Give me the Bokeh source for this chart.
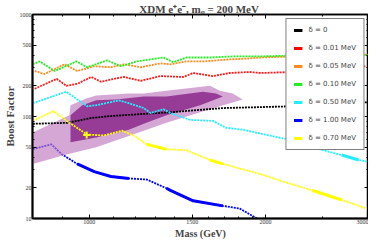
import numpy as np
from bokeh.plotting import figure
from bokeh.models import (LogAxis, FixedTicker, Legend, LegendItem, Range1d,
                          CustomJSTickFormatter)
from bokeh.embed import file_html
from bokeh.resources import INLINE

# ---------------- data (mass in GeV, boost factor) ----------------
black_mass = [801, 918, 1008, 1089, 1239, 1376, 1692, 2240, 3000]
black_boost = [84.8, 86.7, 96.7, 101, 106, 110, 121, 126, 138]

red_mass = [807, 880, 914, 954, 1008, 1048, 1102, 1146, 1225, 1324, 1448, 1505, 1627, 1739, 1879, 1963, 2223, 2970]
red_boost = [187, 234, 200, 209, 244, 219, 234, 244, 224, 249, 244, 267, 249, 267, 273, 267, 273, 311]

orange_mass = [807, 839, 907, 954, 1020, 1089, 1146, 1225, 1324, 1376, 1465, 1565, 1739, 1879, 1963, 2223, 3000]
orange_boost = [279, 261, 325, 279, 311, 304, 325, 304, 332, 325, 347, 347, 363, 371, 379, 388, 405]

green_mass = [801, 823, 873, 951, 992, 1073, 1133, 1206, 1339, 1393, 1465, 1608, 1759, 1963, 2223, 3000]
green_boost = [325, 347, 279, 347, 304, 355, 311, 347, 379, 340, 379, 379, 388, 388, 396, 400]

cyan_mass = [801, 914, 954, 992, 1028, 1124, 1169, 1239, 1273, 1339, 1376, 1488, 1627, 1712, 1829, 2032, 2223, 2470, 2701, 2886, 3000]
cyan_boost = [135, 175, 147, 126, 129, 144, 135, 121, 108, 118, 108, 92.6, 90.6, 77.6, 74.3, 65.1, 58.3, 47.8, 41.9, 37.5, 35.9]

blue_mass = [801, 849, 862, 897, 954, 1020, 1089, 1169, 1254, 1355, 1376, 1505, 1692, 1808, 1924, 1963]
blue_boost = [47.8, 52.2, 53.3, 42.8, 34.3, 28.8, 25.8, 24.7, 24.1, 19.8, 18.9, 14.9, 13.3, 12.5, 10.2, 9.3]

yellow_mass = [801, 869, 925, 992, 1060, 1137, 1191, 1254, 1355, 1465, 1608, 1692, 1978, 2138, 2403, 2701, 2978]
yellow_boost = [90.6, 113, 86.7, 66.5, 65.1, 72.6, 65.1, 53.3, 47.8, 46.7, 37.5, 34.3, 26.9, 23.1, 18.9, 15.2, 12.5]
yellow_mark_mass = [990]
yellow_mark_boost = [66]

# allowed regions (light = wide band, dark = inner band), polygon outlines
light_mass = [801, 925, 929, 988, 1028, 1169, 1239, 1355, 1608, 1672, 1759, 1829,
              1739, 1547, 1355, 1215, 1028, 907, 801]
light_boost = [69.5, 103, 129, 150, 161, 168, 168, 179, 200, 179, 168, 147,
               135, 110, 86.7, 69.5, 49.9, 41.9, 34.3]
dark_mass = [929, 973, 1028, 1111, 1239, 1355, 1565, 1646, 1692,
             1547, 1355, 1239, 1169, 1028, 929]
dark_boost = [103, 129, 144, 147, 157, 157, 175, 168, 157,
              129, 103, 84.8, 74.3, 62.3, 55.8]

labels = ["δ = 0", "δ = 0.01 MeV", "δ = 0.05 MeV", "δ = 0.10 MeV",
          "δ = 0.50 MeV", "δ = 1.00 MeV", "δ = 0.70 MeV"]

x_ticks = [1000, 1500, 2000, 3000]
y_ticks = [10, 20, 50, 100, 200, 500, 1000]

# ---------------- figure ----------------
p = figure(frame_width=336, frame_height=204, x_axis_type="log", y_axis_type="log",
           x_range=Range1d(800, 3000), y_range=Range1d(10, 1000),
           output_backend="svg", toolbar_location=None,
           min_border_left=0, min_border_right=0, min_border_top=0, min_border_bottom=0,
           title="XDM e⁺e⁻,  mᵩ = 200 MeV")
p.title.text_font = "Liberation Serif"
p.title.text_font_size = "11px"
p.title.text_font_style = "bold"
p.title.align = "center"
p.title.offset = 0
p.title.standoff = 0
p.grid.visible = False
p.outline_line_color = "black"
p.outline_line_width = 1.5
p.background_fill_color = "white"

serif = "Liberation Serif"
minor_x = [900, 1100, 1200, 1300, 1400, 1600, 1700, 1800, 1900, 2500]
minor_y = [30, 40, 60, 70, 80, 90, 300, 400, 600, 700, 800, 900]

for ax in (p.xaxis[0], p.yaxis[0]):
    ax.axis_line_width = 2
    ax.major_tick_in = 4
    ax.major_tick_out = 0
    ax.minor_tick_in = 2
    ax.minor_tick_out = 0
    ax.major_label_text_font = serif
    ax.major_label_text_font_size = "6px"
    ax.major_label_text_color = "#333333"
    ax.axis_label_text_font = serif
    ax.axis_label_text_font_style = "bold"
    ax.major_label_standoff = 1

p.xaxis[0].ticker = FixedTicker(ticks=x_ticks, minor_ticks=minor_x)
p.yaxis[0].ticker = FixedTicker(ticks=y_ticks, minor_ticks=minor_y)
fmt = CustomJSTickFormatter(code="return String(Math.round(tick));")
p.xaxis[0].formatter = fmt
p.yaxis[0].formatter = fmt
p.xaxis[0].axis_label = "Mass (GeV)"
p.yaxis[0].axis_label = "Boost Factor"
p.xaxis[0].axis_label_text_font_size = "10px"
p.yaxis[0].axis_label_text_font_size = "11px"
p.xaxis[0].axis_label_standoff = 1
p.yaxis[0].axis_label_standoff = 1

# frame ticks on top / right, no labels
blank = CustomJSTickFormatter(code="return '';")
top = LogAxis(ticker=FixedTicker(ticks=x_ticks, minor_ticks=minor_x), formatter=blank,
              major_tick_in=4, major_tick_out=0, minor_tick_in=2, minor_tick_out=0,
              axis_line_width=1.5, major_label_standoff=0)
right = LogAxis(ticker=FixedTicker(ticks=y_ticks, minor_ticks=minor_y), formatter=blank,
                major_tick_in=4, major_tick_out=0, minor_tick_in=2, minor_tick_out=0,
                axis_line_width=1.5, major_label_standoff=0)
p.add_layout(top, "above")
p.add_layout(right, "right")

DOT = "2 1"

def dotted(m, b, color, width=1.8):
    p.line(m, b, line_color=color, line_width=width, line_dash=DOT)

def solid_parts(m, b, color, ranges):
    m = np.asarray(m, float); b = np.asarray(b, float)
    for lo, hi in ranges:
        sel = (m >= lo) & (m <= hi)
        if sel.sum() >= 2:
            p.line(m[sel], b[sel], line_color=color, line_width=3)

# blue under bands
dotted(blue_mass, blue_boost, "#0000ff")
solid_parts(blue_mass, blue_boost, "#0000ff", [(950, 1170), (1350, 1700)])

# bands
p.patch(light_mass, light_boost, fill_color="#be78be", fill_alpha=0.65, line_color=None)
p.patch(dark_mass, dark_boost, fill_color="#963c96", fill_alpha=1.0, line_color=None)

dotted(black_mass, black_boost, "#000000")
dotted(red_mass, red_boost, "#ff1a1a")
dotted(orange_mass, orange_boost, "#ff8c1a")
dotted(green_mass, green_boost, "#22ee22")
dotted(cyan_mass, cyan_boost, "#22eeff")
solid_parts(cyan_mass, cyan_boost, "#22eeff", [(2700, 2890)])
dotted(yellow_mass, yellow_boost, "#ffff00")
solid_parts(yellow_mass, yellow_boost, "#ffff00", [(1250, 1360), (1600, 1700), (2400, 2710)])
p.scatter(yellow_mark_mass, yellow_mark_boost, marker="cross", size=7,
          line_color="#ffff00", line_width=2)

# legend (single-point lines: nothing drawn in the plot, solid swatch in legend)
series = [(black_mass, black_boost, "#000000"), (red_mass, red_boost, "#ff0000"),
          (orange_mass, orange_boost, "#ff8c1a"), (green_mass, green_boost, "#22ee22"),
          (cyan_mass, cyan_boost, "#22eeff"), (blue_mass, blue_boost, "#0000ff"),
          (yellow_mass, yellow_boost, "#ffff00")]
items = []
for lab, (m, b, c) in zip(labels, series):
    r = p.line(m[:1], b[:1], line_color=c, line_width=3)
    items.append(LegendItem(label=lab, renderers=[r]))
legend = Legend(items=items, location="top_right", margin=4,
                label_text_font="DejaVu Sans", label_text_font_size="7px",
                label_text_color="#444444", glyph_width=9, glyph_height=8,
                label_height=8, spacing=10, padding=7, label_standoff=6,
                border_line_color="black", border_line_width=1,
                background_fill_color="white", background_fill_alpha=1)
p.add_layout(legend, "center")

open("out.html", "w").write(file_html(p, INLINE))
